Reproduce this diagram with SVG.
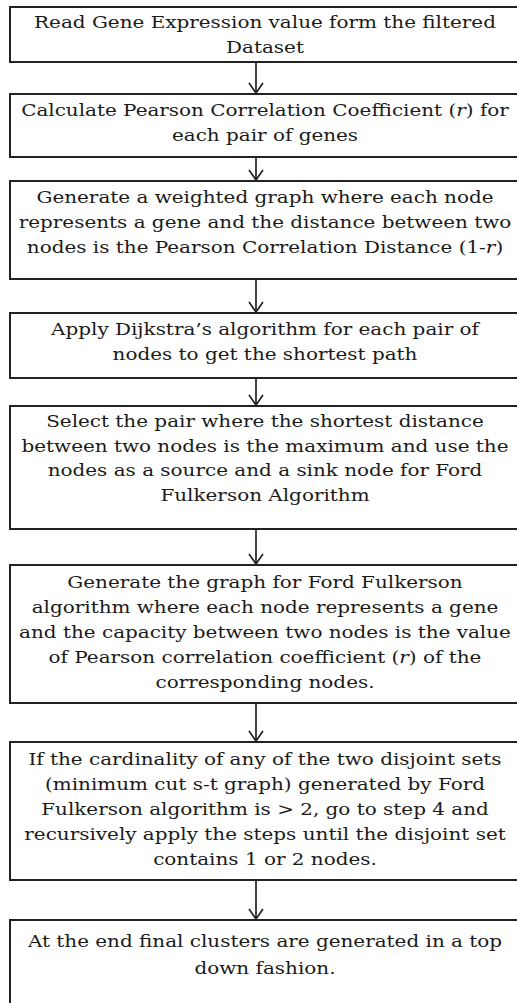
<svg xmlns="http://www.w3.org/2000/svg" width="517" height="1003" viewBox="0 0 517 1003">
<style>
.box{fill:#fff;stroke:#222;stroke-width:2}
.t{font-family:"DejaVu Serif","Liberation Serif",serif;font-size:16.5px;fill:#1a1a1a;text-anchor:middle}
.c{stroke:#222;stroke-width:1.7;fill:none}
</style>
<defs>
<path id="ah" d="M-7,-10 L0,0 L7,-10" fill="none" stroke="#222" stroke-width="1.7"/>
</defs>
<rect width="517" height="1003" fill="#fff"/>
<g id="connectors">
<line class="c" x1="256" y1="62" x2="256" y2="93"/><use href="#ah" x="256" y="93"/>
<line class="c" x1="256" y1="157" x2="256" y2="180"/><use href="#ah" x="256" y="180"/>
<line class="c" x1="256" y1="279" x2="256" y2="312"/><use href="#ah" x="256" y="312"/>
<line class="c" x1="256" y1="378" x2="256" y2="405"/><use href="#ah" x="256" y="405"/>
<line class="c" x1="256" y1="529" x2="256" y2="564"/><use href="#ah" x="256" y="564"/>
<line class="c" x1="256" y1="703" x2="256" y2="741"/><use href="#ah" x="256" y="741"/>
<line class="c" x1="256" y1="880" x2="256" y2="919"/><use href="#ah" x="256" y="919"/>
</g>
<g id="n1"><rect class="box" x="10" y="7" width="515" height="55"/>
<g transform="matrix(1.21 0 0 1 265 0)">
<text class="t" x="0" y="28">Read Gene Expression value form the filtered</text>
<text class="t" x="0" y="53">Dataset</text></g></g>
<g id="n2"><rect class="box" x="10" y="94" width="515" height="63"/>
<g transform="matrix(1.21 0 0 1 265 0)">
<text class="t" x="0" y="116">Calculate Pearson Correlation Coefficient (<tspan font-style="italic">r</tspan>) for</text>
<text class="t" x="0" y="141">each pair of genes</text></g></g>
<g id="n3"><rect class="box" x="10" y="181" width="515" height="98"/>
<g transform="matrix(1.21 0 0 1 265 0)">
<text class="t" x="0" y="203">Generate a weighted graph where each node</text>
<text class="t" x="0" y="228">represents a gene and the distance between two</text>
<text class="t" x="0" y="253">nodes is the Pearson Correlation Distance (1-<tspan font-style="italic">r</tspan>)</text></g></g>
<g id="n4"><rect class="box" x="10" y="313" width="515" height="65"/>
<g transform="matrix(1.21 0 0 1 265 0)">
<text class="t" x="0" y="335">Apply Dijkstra’s algorithm for each pair of</text>
<text class="t" x="0" y="360">nodes to get the shortest path</text></g></g>
<g id="n5"><rect class="box" x="10" y="406" width="515" height="123"/>
<g transform="matrix(1.21 0 0 1 265 0)">
<text class="t" x="0" y="427">Select the pair where the shortest distance</text>
<text class="t" x="0" y="452">between two nodes is the maximum and use the</text>
<text class="t" x="0" y="476">nodes as a source and a sink node for Ford</text>
<text class="t" x="0" y="501">Fulkerson Algorithm</text></g></g>
<g id="n6"><rect class="box" x="10" y="565" width="515" height="138"/>
<g transform="matrix(1.21 0 0 1 265 0)">
<text class="t" x="0" y="588">Generate the graph for Ford Fulkerson</text>
<text class="t" x="0" y="613">algorithm where each node represents a gene</text>
<text class="t" x="0" y="638">and the capacity between two nodes is the value</text>
<text class="t" x="0" y="663">of Pearson correlation coefficient (<tspan font-style="italic">r</tspan>) of the</text>
<text class="t" x="0" y="688">corresponding nodes.</text></g></g>
<g id="n7"><rect class="box" x="10" y="742" width="515" height="138"/>
<g transform="matrix(1.21 0 0 1 265 0)">
<text class="t" x="0" y="765">If the cardinality of any of the two disjoint sets</text>
<text class="t" x="0" y="790">(minimum cut s-t graph) generated by Ford</text>
<text class="t" x="0" y="815">Fulkerson algorithm is &gt; 2, go to step 4 and</text>
<text class="t" x="0" y="840">recursively apply the steps until the disjoint set</text>
<text class="t" x="0" y="865">contains 1 or 2 nodes.</text></g></g>
<g id="n8"><rect class="box" x="10" y="920" width="515" height="100"/>
<g transform="matrix(1.21 0 0 1 265 0)">
<text class="t" x="0" y="947">At the end final clusters are generated in a top</text>
<text class="t" x="0" y="974">down fashion.</text></g></g>
</svg>
